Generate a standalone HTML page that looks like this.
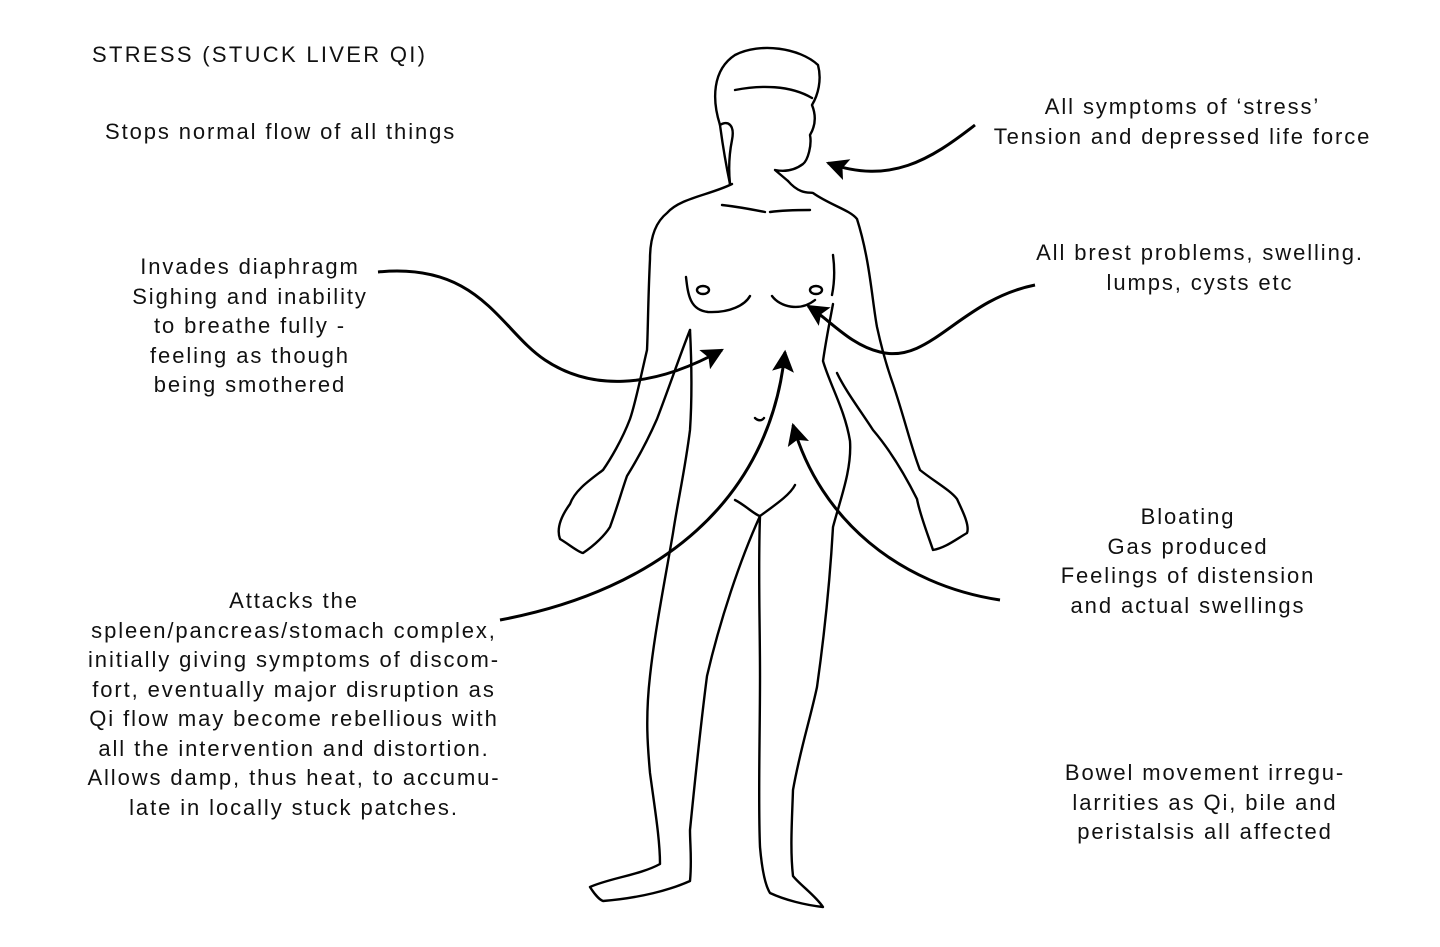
<!DOCTYPE html>
<html><head><meta charset="utf-8"><style>
html,body{margin:0;padding:0;background:#fff;}
body{width:1440px;height:947px;position:relative;overflow:hidden;font-family:"Liberation Sans",sans-serif;color:#111;}
.t{position:absolute;font-size:22px;letter-spacing:1.9px;line-height:29.5px;white-space:nowrap;text-align:center;}
svg{position:absolute;left:0;top:0;}
</style></head><body>
<svg width="1440" height="947" viewBox="0 0 1440 947">
<defs>
<marker id="b" viewBox="0 0 10 10" refX="9" refY="5" markerWidth="28" markerHeight="22" markerUnits="userSpaceOnUse" orient="auto"><path d="M0,0 L10,5 L0,10 L2,5 z" fill="#000"/></marker></defs>
<g fill="none" stroke="#000" stroke-width="2.4" stroke-linejoin="round" stroke-linecap="round">
<path d="M730,184 C726,165 722,140 720,125 C712,100 712,70 735,55 C760,42 800,48 818,65 C822,80 818,95 812,105 C816,115 816,125 810,135 C812,145 808,160 803,164 C795,170 785,172 775,170 L788,181"/>
<path d="M720,125 C728,120 735,125 732,140 C730,150 728,165 730,184"/>
<path d="M735,90 C760,85 790,85 812,98"/>
<path d="M732,184 C710,195 680,198 667,213 C652,225 650,245 650,259 C648,300 648,330 647,350 C640,380 635,405 630,419 C622,440 610,460 603,470 C590,480 575,490 570,504 C562,515 556,528 560,539 C570,545 578,552 583,553 C595,545 605,535 610,527 C618,505 622,490 627,476 C640,455 650,435 657,419 C670,385 680,355 690,330"/>
<path d="M690,330 C692,370 692,400 690,430 C685,470 678,500 673,533 C665,580 655,630 650,676 C645,720 648,750 650,773 C655,810 660,840 660,864 C640,875 610,878 590,887 C595,895 600,900 603,901 C640,898 670,890 690,881 C692,860 690,845 690,830 C695,780 700,730 707,676 C720,620 740,560 760,516"/>
<path d="M760,516 C758,570 760,620 760,676 C760,740 758,800 760,847 C762,870 765,885 770,893 C785,900 805,905 823,907 C815,895 800,885 793,876 C790,850 792,820 793,790 C800,750 810,720 817,687 C825,630 830,580 833,527 C840,500 852,470 850,441 C845,410 830,385 823,361 C826,340 830,320 833,304"/>
<path d="M788,181 C800,195 810,192 813,193 C830,205 850,210 857,219 C870,260 872,300 877,327 C882,350 888,370 893,384 C905,420 912,450 920,470 C935,482 950,490 957,499 C962,510 970,525 967,533 C955,540 945,548 933,550 C928,535 920,515 917,499 C905,475 890,450 873,430 C860,410 845,390 837,373"/>
<path d="M735,500 C745,505 755,515 760,516 C775,505 790,495 795,485"/>
<path d="M722,205 C740,207 755,210 765,212 M770,212 C785,210 800,210 810,210"/>
<path d="M686,277 C688,295 690,310 708,312 C730,313 745,305 750,296 M772,296 C780,307 800,312 815,300 M833,255 C835,270 834,285 832,295"/>
<ellipse cx="703" cy="290" rx="6" ry="4"/><ellipse cx="816" cy="290" rx="6" ry="4"/>
<path d="M755,418 C758,421 762,421 764,418"/>
</g>
<g fill="none" stroke="#000" stroke-width="3">
<path d="M975,125 C930,160 890,185 828,163" marker-end="url(#b)"/>
<path d="M378,272 C480,262 500,330 545,360 C590,390 650,390 722,350" marker-end="url(#b)"/>
<path d="M1035,285 C960,300 930,365 880,352 C850,345 830,320 808,306" marker-end="url(#b)"/>
<path d="M500,620 C660,590 770,500 785,352" marker-end="url(#b)"/>
<path d="M1000,600 C900,585 820,520 793,425" marker-end="url(#b)"/>
</g>
</svg>
<div class="t" style="left:92px;top:40px;text-align:left;letter-spacing:2.3px">STRESS (STUCK LIVER QI)</div>
<div class="t" style="left:105px;top:117px;text-align:left">Stops normal flow of all things</div>
<div class="t" style="left:100px;top:252px;width:300px">Invades diaphragm<br>Sighing and inability<br>to breathe fully -<br>feeling as though<br>being smothered</div>
<div class="t" style="left:960px;top:92px;width:445px">All symptoms of ‘stress’<br>Tension and depressed life force</div>
<div class="t" style="left:1000px;top:238px;width:400px">All brest problems, swelling.<br>lumps, cysts etc</div>
<div class="t" style="left:1020px;top:502px;width:336px">Bloating<br>Gas produced<br>Feelings of distension<br>and actual swellings</div>
<div class="t" style="left:54px;top:586px;width:480px">Attacks the<br>spleen/pancreas/stomach complex,<br>initially giving symptoms of discom-<br>fort, eventually major disruption as<br>Qi flow may become rebellious with<br>all the intervention and distortion.<br>Allows damp, thus heat, to accumu-<br>late in locally stuck patches.</div>
<div class="t" style="left:1030px;top:758px;width:350px">Bowel movement irregu-<br>larrities as Qi, bile and<br>peristalsis all affected</div>
</body></html>
